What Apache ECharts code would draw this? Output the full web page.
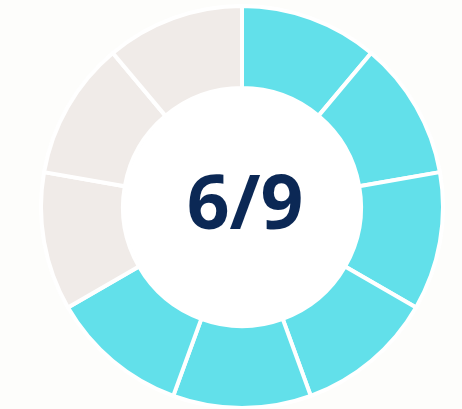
<!DOCTYPE html>
<html>
<head>
<meta charset="utf-8">
<script src="https://cdn.jsdelivr.net/npm/echarts@6/dist/echarts.min.js"></script>
<style>
  html, body { margin: 0; padding: 0; background: #fdfdfb; }
  #main { width: 462px; height: 409px; }
</style>
</head>
<body>
<div id="main"></div>
<script>
// 9 equal steps, 6 done
const steps = ['1', '2', '3', '4', '5', '6', '7', '8', '9']
const stepValues = [1, 1, 1, 1, 1, 1, 1, 1, 1]
const doneCount = 6
const centerLabel = '6/9'

const chart = echarts.init(document.getElementById('main'))
chart.setOption({
  backgroundColor: '#fdfdfb',
  animation: false,
  graphic: [
    {
      type: 'text',
      x: 245,
      y: 208,
      style: {
        text: centerLabel,
        textAlign: 'center',
        textVerticalAlign: 'middle',
        fill: '#0b2855',
        font: 'bold 75px "Open Sans"'
      },
      z: 100
    }
  ],
  series: [
    {
      type: 'pie',
      center: [243, 207],
      radius: [0, 119],
      silent: true,
      label: { show: false },
      itemStyle: { color: '#ffffff' },
      data: [{ value: 1 }]
    },
    {
      type: 'pie',
      center: [242, 207],
      radius: [119, 201],
      startAngle: 90,
      clockwise: true,
      silent: true,
      label: { show: false },
      labelLine: { show: false },
      itemStyle: { borderColor: '#ffffff', borderWidth: 4 },
      data: steps.map((s, i) => ({
        name: s,
        value: stepValues[i],
        itemStyle: { color: i < doneCount ? '#62e0ea' : '#f0ebe8' }
      }))
    }
  ]
})
</script>
</body>
</html>
